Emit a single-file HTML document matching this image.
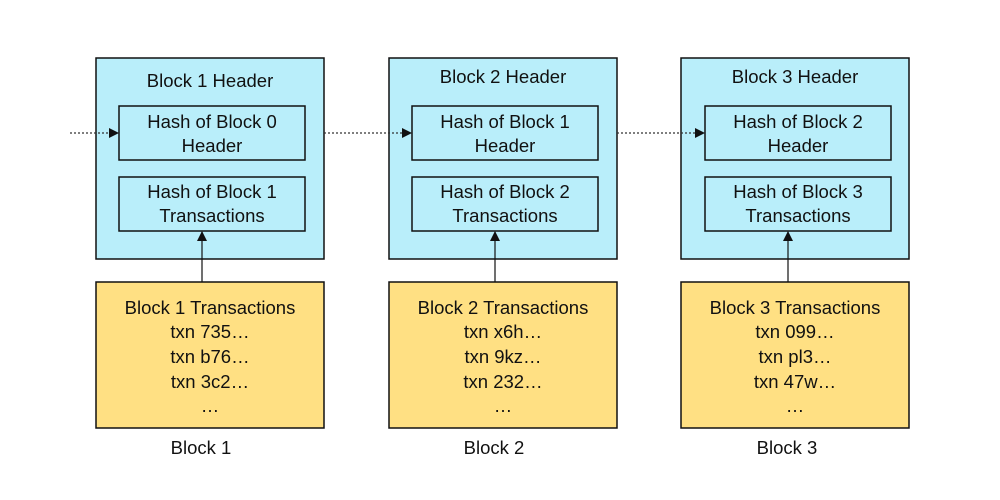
<!DOCTYPE html>
<html><head><style>body{margin:0;background:#fff}svg{display:block}text{font-family:"Liberation Sans",sans-serif;font-size:18.5px;fill:#111;text-anchor:middle}</style></head>
<body>
<svg width="1000" height="500" viewBox="0 0 1000 500">
<defs><marker id="a" markerWidth="10" markerHeight="10" refX="9" refY="5" orient="auto" markerUnits="userSpaceOnUse"><path d="M0,0 L10,5 L0,10z" fill="#111"/></marker></defs>
<g stroke="#111" stroke-width="1.5">
<rect x="96" y="58" width="228" height="201" fill="#b9eefa"/>
<rect x="389" y="58" width="228" height="201" fill="#b9eefa"/>
<rect x="681" y="58" width="228" height="201" fill="#b9eefa"/>
<rect x="119" y="106" width="186" height="54" fill="#b9eefa"/>
<rect x="119" y="177" width="186" height="54" fill="#b9eefa"/>
<rect x="412" y="106" width="186" height="54" fill="#b9eefa"/>
<rect x="412" y="177" width="186" height="54" fill="#b9eefa"/>
<rect x="705" y="106" width="186" height="54" fill="#b9eefa"/>
<rect x="705" y="177" width="186" height="54" fill="#b9eefa"/>
<rect x="96" y="282" width="228" height="146" fill="#ffe083"/>
<rect x="389" y="282" width="228" height="146" fill="#ffe083"/>
<rect x="681" y="282" width="228" height="146" fill="#ffe083"/>
</g>
<g stroke="#333" stroke-width="1.2" stroke-dasharray="2,2" marker-end="url(#a)">
<line x1="70" y1="133" x2="118" y2="133"/>
<line x1="324" y1="133" x2="411" y2="133"/>
<line x1="617" y1="133" x2="704" y2="133"/>
</g>
<g stroke="#111" stroke-width="1.2" marker-end="url(#a)">
<line x1="202" y1="282" x2="202" y2="232"/>
<line x1="495" y1="282" x2="495" y2="232"/>
<line x1="788" y1="282" x2="788" y2="232"/>
</g>
<text x="210" y="87">Block 1 Header</text>
<text x="503" y="83">Block 2 Header</text>
<text x="795" y="83">Block 3 Header</text>
<text x="212" y="128">Hash of Block 0</text><text x="212" y="152">Header</text>
<text x="212" y="198">Hash of Block 1</text><text x="212" y="222">Transactions</text>
<text x="505" y="128">Hash of Block 1</text><text x="505" y="152">Header</text>
<text x="505" y="198">Hash of Block 2</text><text x="505" y="222">Transactions</text>
<text x="798" y="128">Hash of Block 2</text><text x="798" y="152">Header</text>
<text x="798" y="198">Hash of Block 3</text><text x="798" y="222">Transactions</text>
<text x="210" y="314">Block 1 Transactions</text><text x="210" y="338">txn 735…</text><text x="210" y="363">txn b76…</text><text x="210" y="388">txn 3c2…</text><text x="210" y="412">…</text>
<text x="503" y="314">Block 2 Transactions</text><text x="503" y="338">txn x6h…</text><text x="503" y="363">txn 9kz…</text><text x="503" y="388">txn 232…</text><text x="503" y="412">…</text>
<text x="795" y="314">Block 3 Transactions</text><text x="795" y="338">txn 099…</text><text x="795" y="363">txn pl3…</text><text x="795" y="388">txn 47w…</text><text x="795" y="412">…</text>
<text x="201" y="454">Block 1</text>
<text x="494" y="454">Block 2</text>
<text x="787" y="454">Block 3</text>
</svg>
</body></html>
